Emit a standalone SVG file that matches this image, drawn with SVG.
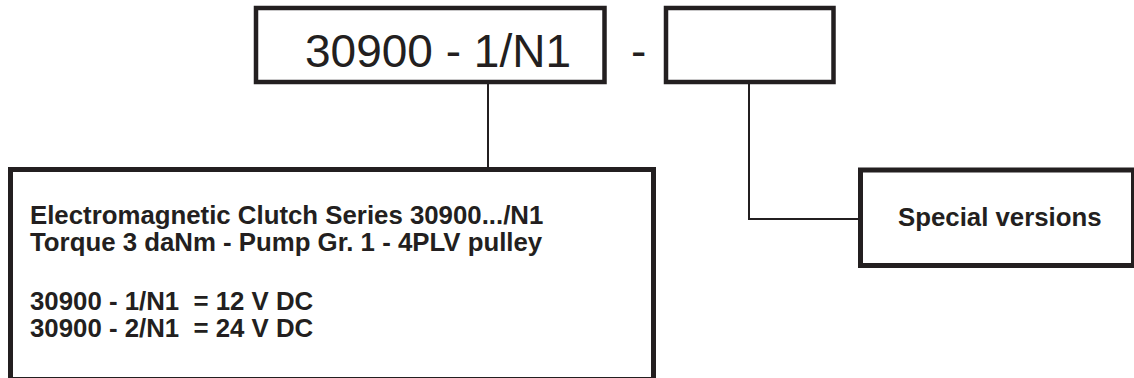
<svg xmlns="http://www.w3.org/2000/svg" width="1134" height="378" viewBox="0 0 1134 378">
<style>
.box{fill:#fff;stroke:#231f20;stroke-width:4.5}
.big{fill:#fff;stroke:#231f20;stroke-width:5}
.con{fill:none;stroke:#231f20;stroke-width:2}
.main{font-family:"Liberation Sans",Arial,sans-serif;font-size:46px;fill:#231f20}
.lbl{font-family:"Liberation Sans",Arial,sans-serif;font-size:25.8px;font-weight:bold;fill:#231f20}
</style>
<rect width="1134" height="378" fill="#fff"/>
<g id="connectors">
<line class="con" x1="488" y1="84" x2="488" y2="168"/>
<path class="con" d="M749 84 V219 H859"/>
</g>
<g id="code-box">
<rect class="box" x="256" y="8" width="348.5" height="74"/>
<text class="main" x="305" y="67">30900 - 1/N1</text>
</g>
<g id="dash">
<text class="main" x="631" y="67">-</text>
</g>
<g id="suffix-box">
<rect class="box" x="666" y="8" width="167.5" height="74"/>
</g>
<g id="description-box">
<rect class="big" x="10.5" y="169.5" width="643" height="210"/>
<text class="lbl" x="30" y="224">Electromagnetic Clutch Series 30900.../N1</text>
<text class="lbl" x="30" y="251">Torque 3 daNm - Pump Gr. 1 - 4PLV pulley</text>
<text class="lbl" x="30" y="310" xml:space="preserve">30900 - 1/N1  = 12 V DC</text>
<text class="lbl" x="30" y="337" xml:space="preserve">30900 - 2/N1  = 24 V DC</text>
</g>
<g id="special-box">
<rect class="big" x="860.5" y="170" width="273" height="95.5"/>
<text class="lbl" x="898" y="226">Special versions</text>
</g>
</svg>
